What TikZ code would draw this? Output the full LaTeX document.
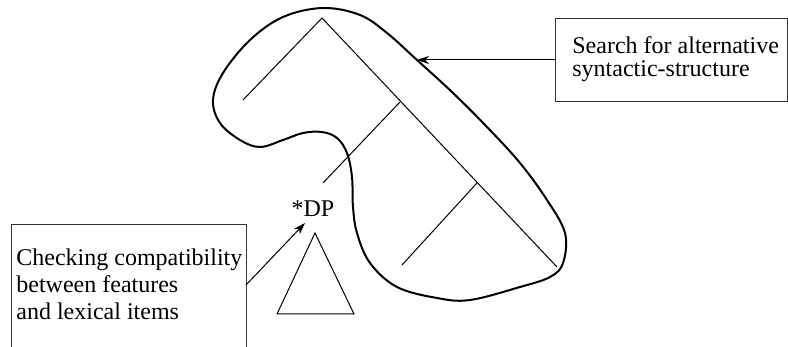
\documentclass[tikz,border=0pt]{standalone}
\usepackage{fontspec}
\setmainfont{LiberationSerif}[Extension=.ttf, UprightFont=*-Regular, BoldFont=*-Bold]
\usetikzlibrary{arrows.meta}
\begin{document}
\begin{tikzpicture}[x=0.5pt,y=-0.5pt,
  branch/.style={line width=0.5pt},
  hull/.style={line width=1pt, line join=round},
  notebox/.style={draw=black!80, line width=0.5pt, anchor=north west, inner sep=0pt},
  notetext/.style={anchor=north west, inner sep=0pt, align=left, font=\fontsize{12}{13.5}\selectfont},
  pointer/.style={line width=0.5pt, -{Stealth[length=6pt,width=4pt]}}]
\useasboundingbox (0,0) rectangle (788,347);
\clip (0,0) rectangle (788,347);
% tree
\coordinate (root) at (322,18);
\coordinate (leftleaf) at (243,100);
\coordinate (rightleaf) at (557,267);
\coordinate (n1) at (400,102);
\coordinate (n1leaf) at (323,183);
\coordinate (n2) at (477,183);
\coordinate (n2leaf) at (402,265);
\draw[branch] (leftleaf) -- (root) -- (rightleaf);
\draw[branch] (n1) -- (n1leaf);
\draw[branch] (n2) -- (n2leaf);
% region searched
\draw[hull] plot[smooth cycle, tension=0.6] coordinates {
  (323,8) (360,15) (387,33) (417,60) (453,93) (487,127) (520,163)
  (547,200) (565,233) (563,263) (550,277) (520,287) (470,300)
  (437,298) (397,287) (370,263) (357,233) (353,207) (352,177)
  (347,153) (337,138) (322,132) (303,133) (283,140) (260,147)
  (240,140) (220,123) (213,100) (223,73) (250,40) (283,17)};
\coordinate (hullhit) at (417,60);
% the DP and its subtree
\node[inner sep=0pt, anchor=base, font=\fontsize{12}{12}\selectfont] (dp) at (313,217) {*DP};
\coordinate (dptip) at (305,223);
\draw[branch] (315,233) -- (277,314) -- (354,314) -- cycle;
% boxes
\node[notebox, minimum width=116pt, minimum height=41.5pt] (search) at (555,18) {};
\node[notetext, font=\fontsize{12}{11.5}\selectfont] (searchtext) at (572,36) {Search for alternative\\syntactic-structure};
\node[notebox, minimum width=117.5pt, minimum height=80pt] (check) at (11,224) {};
\node[notetext] (checktext) at (16,248.5) {Checking compatibility\\between features\\and lexical items};
\coordinate (checkout) at (246,285);
% arrows
\draw[pointer] (search.west) -- (hullhit);
\draw[pointer] (checkout) -- (dptip);
\end{tikzpicture}
\end{document}
